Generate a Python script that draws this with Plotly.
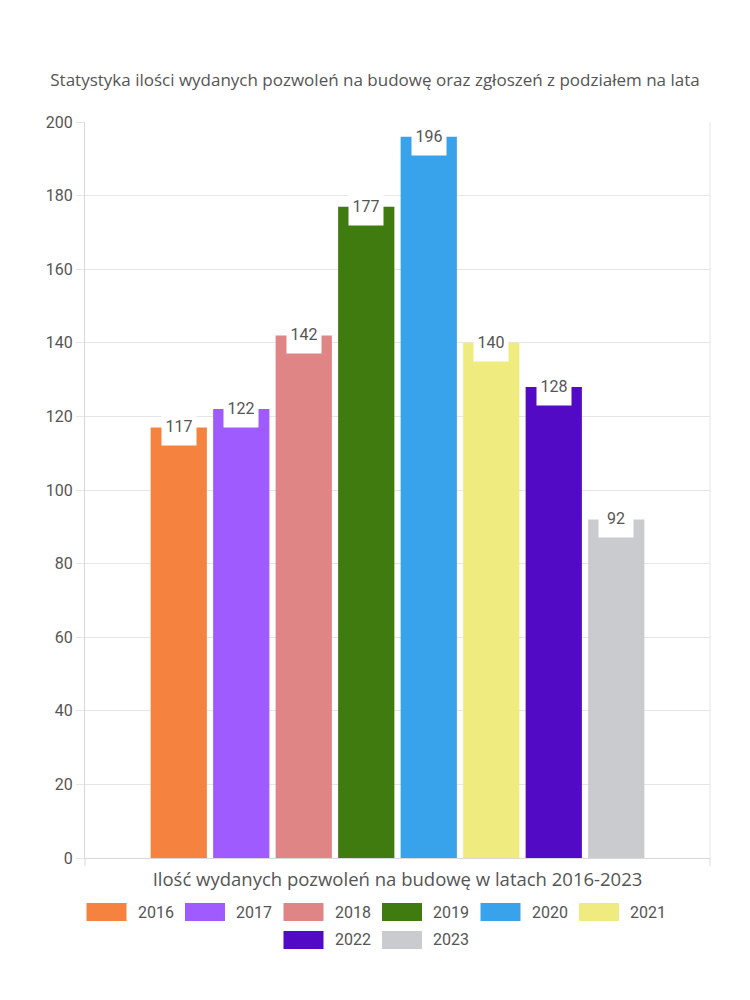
import plotly.graph_objects as go

years = ["2016", "2017", "2018", "2019", "2020", "2021", "2022", "2023"]
values = [117, 122, 142, 177, 196, 140, 128, 92]
colors = ["#F5833F", "#A05BFF", "#E08585", "#3F7B0E", "#38A3EB", "#F0EB7E", "#520AC5", "#CACBCF"]
category = ["Ilość wydanych pozwoleń na budowę w latach 2016-2023"]
title_text = "Statystyka ilości wydanych pozwoleń na budowę oraz zgłoszeń z podziałem na lata"
y_ticks = [0, 20, 40, 60, 80, 100, 120, 140, 160, 180, 200]

FONT = "Open Sans, sans-serif"
NUMFONT = "Roboto, sans-serif"
TXT = "#555555"

W, H = 750, 1000
ML, MR, MT, MB = 85, 40, 122, 142
PW, PH = W - ML - MR, H - MT - MB

def px_x(x):
    return (x - ML) / PW

def px_y(y):
    return (H - MB - y) / PH

fig = go.Figure()
for yr, v, c in zip(years, values, colors):
    fig.add_trace(go.Bar(
        x=[0], y=[v], name=yr, marker=dict(color=c, line=dict(width=0)),
        offsetgroup=yr, hoverinfo="skip", showlegend=False,
    ))

annotations = []
shapes = []
n = len(years)
bargap = 0.2
groupw = 1 - bargap
slot = groupw / n
for i, v in enumerate(values):
    xc = -groupw / 2 + slot * (i + 0.5)
    annotations.append(dict(
        x=xc, y=v, xref="x", yref="y", text=str(v), showarrow=False,
        font=dict(family=NUMFONT, size=16, color=TXT),
        bgcolor="white", borderpad=4, yshift=1, width=26, height=30,
    ))

# manual legend (wide rectangular swatches, centered rows)
rows = [years[:6], years[6:]]
pitch = 98.5
sw_w, sw_h = 40, 18
row_y = [912, 940]
idx = 0
for r, row in enumerate(rows):
    total = pitch * len(row) - 10
    x0 = W / 2 - total / 2 + 2
    for j, yr in enumerate(row):
        c = colors[idx]
        sx = x0 + j * pitch
        cy = row_y[r]
        shapes.append(dict(type="rect", xref="paper", yref="paper",
                           x0=px_x(sx), x1=px_x(sx + sw_w),
                           y0=px_y(cy + sw_h / 2), y1=px_y(cy - sw_h / 2),
                           fillcolor=c, line=dict(width=0)))
        annotations.append(dict(x=px_x(sx + sw_w + 9), y=px_y(cy), xref="paper", yref="paper",
                                text=yr, showarrow=False, xanchor="left", yanchor="middle",
                                font=dict(family=NUMFONT, size=16, color=TXT)))
        idx += 1

# right border and end ticks of category axis
shapes.append(dict(type="line", xref="paper", yref="paper", x0=1, x1=1, y0=0, y1=1,
                   line=dict(color="#e6e6e6", width=1)))
for xe in (0, 1):
    shapes.append(dict(type="line", xref="paper", yref="paper", x0=xe, x1=xe,
                       y0=0, y1=px_y(H - MB + 8), line=dict(color="#d9d9d9", width=1)))

fig.update_layout(
    width=W, height=H,
    margin=dict(l=ML, r=MR, t=MT, b=MB),
    paper_bgcolor="white", plot_bgcolor="white",
    barmode="group", bargap=bargap, bargroupgap=0.1,
    font=dict(family=FONT, color=TXT),
    showlegend=False,
    title=dict(text=title_text, x=0.5, xanchor="center", y=0.92, yanchor="middle",
               font=dict(family=FONT, size=17, color=TXT)),
    xaxis=dict(range=[-0.5, 0.5], tickvals=[], showgrid=False, zeroline=False,
               showline=True, linecolor="#d9d9d9", linewidth=1, mirror=False,
               title=dict(text=category[0], standoff=12,
                          font=dict(family=FONT, size=18.5, color=TXT))),
    yaxis=dict(range=[0, 200], tickvals=y_ticks, showgrid=True, gridcolor="#e6e6e6",
               zeroline=False, showline=True, linecolor="#d9d9d9", linewidth=1,
               ticks="outside", ticklen=8, tickcolor="#e6e6e6",
               tickfont=dict(family=NUMFONT, size=16, color=TXT)),
    annotations=annotations,
    shapes=shapes,
)

fig.write_html("out.html")
